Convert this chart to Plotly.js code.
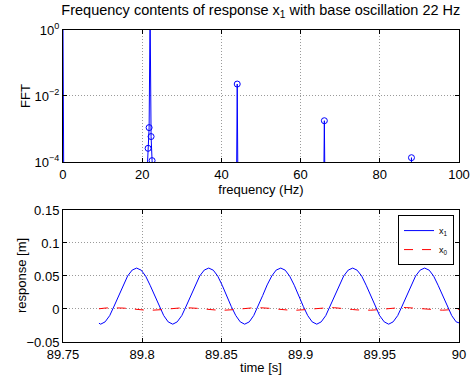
<!DOCTYPE html>
<html>
<head>
<meta charset="utf-8">
<script src="https://cdn.plot.ly/plotly-3.0.1.min.js"></script>
<style>html,body{margin:0;padding:0;background:#fff;}#chart{width:470px;height:380px;}</style>
</head>
<body>
<div id="chart"></div>
<script>
// ---- FFT panel data (frequency in Hz, amplitude) ----
const fftFreq = [0, 0.25, 21.25, 21.5, 21.75, 22, 22.25, 22.5, 22.75, 43.75, 44, 44.25, 65.75, 66, 66.25, 87.75, 88, 88.25, 100];
const fftAmp  = [2, 1e-6, 5e-5, 2.6e-4, 1.1e-3, 4, 5.9e-4, 1.1e-4, 3e-5, 1e-6, 0.023, 1e-6, 1e-6, 1.78e-3, 1e-6, 1e-6, 1.35e-4, 1e-6, 1e-6];
const fftYTickVals = [1e-4, 1e-2, 1];
const fftYTickText = ['10<sup>\u22124</sup>', '10<sup>\u22122</sup>', '10<sup>0</sup>'];

// ---- Time response panel data ----
const time = [89.7727,
 89.7738, 89.7766, 89.7795, 89.7823, 89.7852, 89.7880, 89.7908, 89.7937, 89.7965, 89.7994, 89.8022, 89.8050, 89.8079, 89.8107, 89.8136, 89.8164,
 89.8193, 89.8221, 89.8250, 89.8278, 89.8307, 89.8335, 89.8363, 89.8392, 89.8420, 89.8449, 89.8477, 89.8505, 89.8534, 89.8562, 89.8591, 89.8619,
 89.8647, 89.8676, 89.8704, 89.8733, 89.8761, 89.8789, 89.8818, 89.8846, 89.8875, 89.8903, 89.8931, 89.8960, 89.8988, 89.9017, 89.9045, 89.9073,
 89.9102, 89.9130, 89.9159, 89.9187, 89.9215, 89.9244, 89.9272, 89.9301, 89.9329, 89.9357, 89.9386, 89.9414, 89.9443, 89.9471, 89.9499, 89.9528,
 89.9556, 89.9584, 89.9613, 89.9641, 89.9670, 89.9698, 89.9726, 89.9755, 89.9783, 89.9812, 89.9840, 89.9868, 89.9897, 89.9925, 89.9954, 89.9982,
 90.0000];
const x1 = [-0.0215,
 -0.0230, -0.0195, -0.0100, 0.0045, 0.0205, 0.0365, 0.0500, 0.0590, 0.0620, 0.0588, 0.0498, 0.0360, 0.0195, 0.0040, -0.0100, -0.0195,
 -0.0230, -0.0195, -0.0100, 0.0045, 0.0205, 0.0365, 0.0500, 0.0590, 0.0620, 0.0588, 0.0498, 0.0360, 0.0195, 0.0040, -0.0100, -0.0195,
 -0.0230, -0.0195, -0.0100, 0.0045, 0.0205, 0.0365, 0.0500, 0.0590, 0.0620, 0.0588, 0.0498, 0.0360, 0.0195, 0.0040, -0.0100, -0.0195,
 -0.0230, -0.0195, -0.0100, 0.0045, 0.0205, 0.0365, 0.0500, 0.0590, 0.0620, 0.0588, 0.0498, 0.0360, 0.0195, 0.0040, -0.0100, -0.0195,
 -0.0230, -0.0195, -0.0100, 0.0045, 0.0205, 0.0365, 0.0500, 0.0590, 0.0620, 0.0588, 0.0498, 0.0360, 0.0195, 0.0040, -0.0100, -0.0195,
 -0.0210];
const x0 = [0.0003,
 0.0008, 0.0014, 0.0018, 0.0020, 0.0018, 0.0014, 0.0008, 0.0000, -0.0008, -0.0014, -0.0018, -0.0020, -0.0018, -0.0014, -0.0008, 0.0000,
 0.0008, 0.0014, 0.0018, 0.0020, 0.0018, 0.0014, 0.0008, 0.0000, -0.0008, -0.0014, -0.0018, -0.0020, -0.0018, -0.0014, -0.0008, 0.0000,
 0.0008, 0.0014, 0.0019, 0.0021, 0.0019, 0.0014, 0.0008, 0.0000, -0.0008, -0.0014, -0.0018, -0.0020, -0.0018, -0.0014, -0.0008, 0.0000,
 0.0008, 0.0015, 0.0019, 0.0022, 0.0019, 0.0015, 0.0008, 0.0000, -0.0008, -0.0014, -0.0018, -0.0020, -0.0018, -0.0014, -0.0008, 0.0000,
 0.0009, 0.0016, 0.0021, 0.0024, 0.0021, 0.0016, 0.0009, 0.0000, -0.0008, -0.0014, -0.0018, -0.0020, -0.0018, -0.0014, -0.0008, 0.0000,
 -0.0004];
const seriesNames = ['x<sub>1</sub>', 'x<sub>0</sub>'];

const FONT = 'Liberation Sans, Arial, Helvetica, sans-serif';
const gridStyle = {showgrid: true, gridcolor: '#9a9a9a', griddash: '1px,2px', gridwidth: 1};
const axisBase = Object.assign({
  showline: true, linecolor: '#000', linewidth: 1, mirror: 'ticks',
  ticks: 'inside', ticklen: 4, tickcolor: '#000', zeroline: false,
  tickfont: {family: FONT, size: 13, color: '#000'}, automargin: false
}, gridStyle);

const traces = [
  {x: fftFreq, y: fftAmp, xaxis: 'x', yaxis: 'y', type: 'scatter', mode: 'lines+markers',
   line: {color: '#0000ff', width: 1}, marker: {symbol: 'circle-open', size: 6, color: '#0000ff', line: {width: 1}},
   showlegend: false},
  {x: time, y: x1, xaxis: 'x2', yaxis: 'y2', type: 'scatter', mode: 'lines', name: seriesNames[0],
   line: {color: '#0000ff', width: 1}},
  {x: time, y: x0, xaxis: 'x2', yaxis: 'y2', type: 'scatter', mode: 'lines', name: seriesNames[1],
   line: {color: '#ff0000', width: 1, dash: 'dash'}}
];

const layout = {
  width: 470, height: 380,
  margin: {l: 0, r: 0, t: 0, b: 0},
  paper_bgcolor: '#fff', plot_bgcolor: '#fff',
  font: {family: FONT, size: 13, color: '#000'},
  title: {text: 'Frequency contents of response x<sub>1</sub> with base oscillation 22 Hz',
          font: {family: FONT, size: 14.5, color: '#000'},
          x: 0.555, xanchor: 'center', y: 0.975, yanchor: 'middle'},
  xaxis: Object.assign({}, axisBase, {domain: [0.134, 0.9766], anchor: 'y', range: [0, 100], dtick: 20, tick0: 0,
          title: {text: 'frequency (Hz)', font: {family: FONT, size: 13}, standoff: 0}}),
  yaxis: Object.assign({}, axisBase, {domain: [0.5737, 0.9211], anchor: 'x', type: 'log', range: [-4, 0],
          tickmode: 'array', tickvals: fftYTickVals, ticktext: fftYTickText}),
  xaxis2: Object.assign({}, axisBase, {domain: [0.134, 0.9766], anchor: 'y2', range: [89.75, 90], dtick: 0.05, tick0: 89.75,
          tickformat: '.2~f',
          title: {text: 'time [s]', font: {family: FONT, size: 13}, standoff: 2}}),
  yaxis2: Object.assign({}, axisBase, {domain: [0.1, 0.4474], anchor: 'x2', range: [-0.05, 0.15], dtick: 0.05, tick0: 0,
          tickformat: '.2~f'}),
  annotations: [
    {text: 'FFT', xref: 'paper', yref: 'paper', x: 25 / 470, y: 1 - 96 / 380, xanchor: 'center', yanchor: 'middle',
     textangle: -90, showarrow: false, font: {family: FONT, size: 13, color: '#000'}},
    {text: 'response [m]', xref: 'paper', yref: 'paper', x: 21 / 470, y: 1 - 276 / 380, xanchor: 'center', yanchor: 'middle',
     textangle: -90, showarrow: false, font: {family: FONT, size: 13, color: '#000'}}
  ],
  showlegend: true,
  legend: {x: 0.966, xanchor: 'right', y: 0.434, yanchor: 'top', bgcolor: '#fff',
           bordercolor: '#000', borderwidth: 1, font: {family: FONT, size: 9, color: '#000'},
           itemwidth: 30, tracegroupgap: 0}
};

Plotly.newPlot('chart', traces, layout, {staticPlot: true, displayModeBar: false});
</script>
</body>
</html>
